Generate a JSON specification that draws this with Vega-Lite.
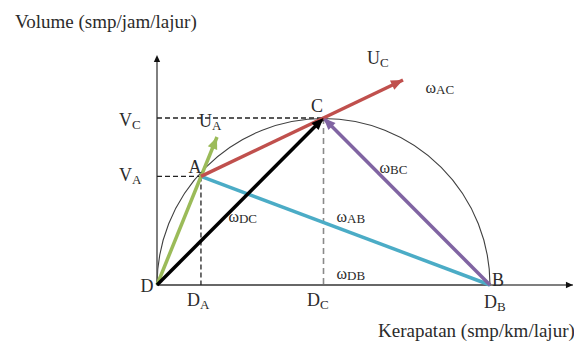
{
  "$schema": "https://vega.github.io/schema/vega-lite/v6.json",
  "width": 574,
  "height": 343,
  "autosize": {"type": "none"},
  "padding": 0,
  "background": "white",
  "config": {"view": {"stroke": null}, "text": {"font": "Liberation Serif", "color": "#2b2b2b"}},
  "datasets": {
    "center": [{"x": 50, "y": 0}],
    "axes": [
      {"x": 0, "y": 0, "x2": 124.9, "y2": 0},
      {"x": 0, "y": 0, "x2": 0, "y2": 134}
    ],
    "yTip": [{"x": 0, "y": 137.7}],
    "xTip": [{"x": 124.9, "y": 0}],
    "dashBlack": [
      {"x": 0, "y": 65, "x2": 13.2, "y2": 65},
      {"x": 13.2, "y": 65, "x2": 13.2, "y2": 0},
      {"x": 0, "y": 100, "x2": 50, "y2": 100}
    ],
    "dashGray": [{"x": 50, "y": 100, "x2": 50, "y2": 0}],
    "segAB": [{"x": 13.2, "y": 65, "x2": 100, "y2": 0}],
    "segBC": [{"x": 100, "y": 0, "x2": 50, "y2": 100}],
    "segDUA": [{"x": 0, "y": 0, "x2": 18.02, "y2": 88.62}],
    "segDC": [{"x": 0, "y": 0, "x2": 50, "y2": 100}],
    "segAUC": [{"x": 13.2, "y": 65, "x2": 73.87, "y2": 122.75}],
    "tipUC": [{"x": 73.87, "y": 122.75}],
    "tipC": [{"x": 50, "y": 100}],
    "tipUA": [{"x": 18.02, "y": 88.62}],
    "points": [
      {"x": 11.41, "y": 70.06, "label": "A"},
      {"x": 48.05, "y": 106.59, "label": "C"},
      {"x": 102.4, "y": 2.4, "label": "B"},
      {"x": -3.0, "y": -1.2, "label": "D"}
    ],
    "subLabels": [
      {"x": -7.51, "y": 98.2, "label": "V", "sub": "C"},
      {"x": -7.51, "y": 65.27, "label": "V", "sub": "A"},
      {"x": 16.52, "y": 97.6, "label": "U", "sub": "A"},
      {"x": 66.97, "y": 135.33, "label": "U", "sub": "C"},
      {"x": 12.91, "y": -9.58, "label": "D", "sub": "A"},
      {"x": 48.95, "y": -9.58, "label": "D", "sub": "C"},
      {"x": 102.1, "y": -10.78, "label": "D", "sub": "B"}
    ],
    "omegas": [
      {"x": 83.78, "y": 117.96, "label": "ω", "sub": "AC"},
      {"x": 69.97, "y": 70.06, "label": "ω", "sub": "BC"},
      {"x": 57.06, "y": 40.72, "label": "ω", "sub": "AB"},
      {"x": 57.06, "y": 6.59, "label": "ω", "sub": "DB"},
      {"x": 24.62, "y": 40.72, "label": "ω", "sub": "DC"}
    ],
    "titleY": [{"x": -42.64, "y": 157.49, "label": "Volume (smp/jam/lajur)"}],
    "titleX": [{"x": 66.37, "y": -27.54, "label": "Kerapatan (smp/km/lajur)"}]
  },
  "encoding": {
    "x": {"field": "x", "type": "quantitative", "scale": {"domain": [-47.147, 125.225], "nice": false, "zero": false}, "axis": null},
    "y": {"field": "y", "type": "quantitative", "scale": {"domain": [-34.731, 170.659], "nice": false, "zero": false}, "axis": null}
  },
  "layer": [
    {"data": {"name": "center"}, "mark": {"type": "arc", "radius": 166.5, "theta": -1.5708, "theta2": 1.5708, "fill": "white", "fillOpacity": 0, "stroke": "#404040", "strokeWidth": 1.1}},
    {"data": {"name": "axes"}, "mark": {"type": "rule", "color": "#555555", "strokeWidth": 1.5}, "encoding": {"x2": {"field": "x2"}, "y2": {"field": "y2"}}},
    {"data": {"name": "yTip"}, "mark": {"type": "point", "shape": "M0,0 L-0.45,1 L0.45,1 Z", "filled": true, "color": "#111111", "opacity": 1, "size": 196, "angle": 0}},
    {"data": {"name": "xTip"}, "mark": {"type": "point", "shape": "M0,0 L-0.45,1 L0.45,1 Z", "filled": true, "color": "#111111", "opacity": 1, "size": 196, "angle": 90}},
    {"data": {"name": "dashBlack"}, "mark": {"type": "rule", "color": "#222222", "strokeWidth": 1.3, "strokeDash": [5, 3]}, "encoding": {"x2": {"field": "x2"}, "y2": {"field": "y2"}}},
    {"data": {"name": "dashGray"}, "mark": {"type": "rule", "color": "#8a8a8a", "strokeWidth": 1.6, "strokeDash": [6, 4]}, "encoding": {"x2": {"field": "x2"}, "y2": {"field": "y2"}}},
    {"data": {"name": "segAB"}, "mark": {"type": "rule", "color": "#4BACC6", "strokeWidth": 3.5}, "encoding": {"x2": {"field": "x2"}, "y2": {"field": "y2"}}},
    {"data": {"name": "segBC"}, "mark": {"type": "rule", "color": "#8064A2", "strokeWidth": 3.5}, "encoding": {"x2": {"field": "x2"}, "y2": {"field": "y2"}}},
    {"data": {"name": "segDUA"}, "mark": {"type": "rule", "color": "#9BBB59", "strokeWidth": 3.5}, "encoding": {"x2": {"field": "x2"}, "y2": {"field": "y2"}}},
    {"data": {"name": "segDC"}, "mark": {"type": "rule", "color": "#000000", "strokeWidth": 3.5}, "encoding": {"x2": {"field": "x2"}, "y2": {"field": "y2"}}},
    {"data": {"name": "segAUC"}, "mark": {"type": "rule", "color": "#C0504D", "strokeWidth": 3.5}, "encoding": {"x2": {"field": "x2"}, "y2": {"field": "y2"}}},
    {"data": {"name": "tipUC"}, "mark": {"type": "point", "shape": "M0,0 L-0.42,1 L0.42,1 Z", "filled": true, "color": "#C0504D", "opacity": 1, "size": 576, "angle": 64.5}},
    {"data": {"name": "tipC"}, "mark": {"type": "point", "shape": "M0,0 L-0.42,1 L0.42,1 Z", "filled": true, "color": "#8064A2", "opacity": 1, "size": 576, "angle": -44.9}},
    {"data": {"name": "tipC"}, "mark": {"type": "point", "shape": "M0,0 L-0.42,1 L0.42,1 Z", "filled": true, "color": "#000000", "opacity": 1, "size": 576, "angle": 44.9}},
    {"data": {"name": "tipUA"}, "mark": {"type": "point", "shape": "M0,0 L-0.42,1 L0.42,1 Z", "filled": true, "color": "#9BBB59", "opacity": 1, "size": 576, "angle": 22.1}},
    {"data": {"name": "points"}, "mark": {"type": "text", "fontSize": 18, "align": "center", "baseline": "middle"}, "encoding": {"text": {"field": "label"}}},
    {"data": {"name": "subLabels"}, "mark": {"type": "text", "fontSize": 18, "align": "right", "baseline": "middle"}, "encoding": {"text": {"field": "label"}}},
    {"data": {"name": "subLabels"}, "mark": {"type": "text", "fontSize": 13, "align": "left", "baseline": "middle", "dy": 4}, "encoding": {"text": {"field": "sub"}}},
    {"data": {"name": "omegas"}, "mark": {"type": "text", "fontSize": 16, "align": "right", "baseline": "middle"}, "encoding": {"text": {"field": "label"}}},
    {"data": {"name": "omegas"}, "mark": {"type": "text", "fontSize": 13, "align": "left", "baseline": "middle", "dy": 2}, "encoding": {"text": {"field": "sub"}}},
    {"data": {"name": "titleY"}, "mark": {"type": "text", "fontSize": 19, "align": "left", "baseline": "middle"}, "encoding": {"text": {"field": "label"}}},
    {"data": {"name": "titleX"}, "mark": {"type": "text", "fontSize": 19, "align": "left", "baseline": "middle"}, "encoding": {"text": {"field": "label"}}}
  ]
}
